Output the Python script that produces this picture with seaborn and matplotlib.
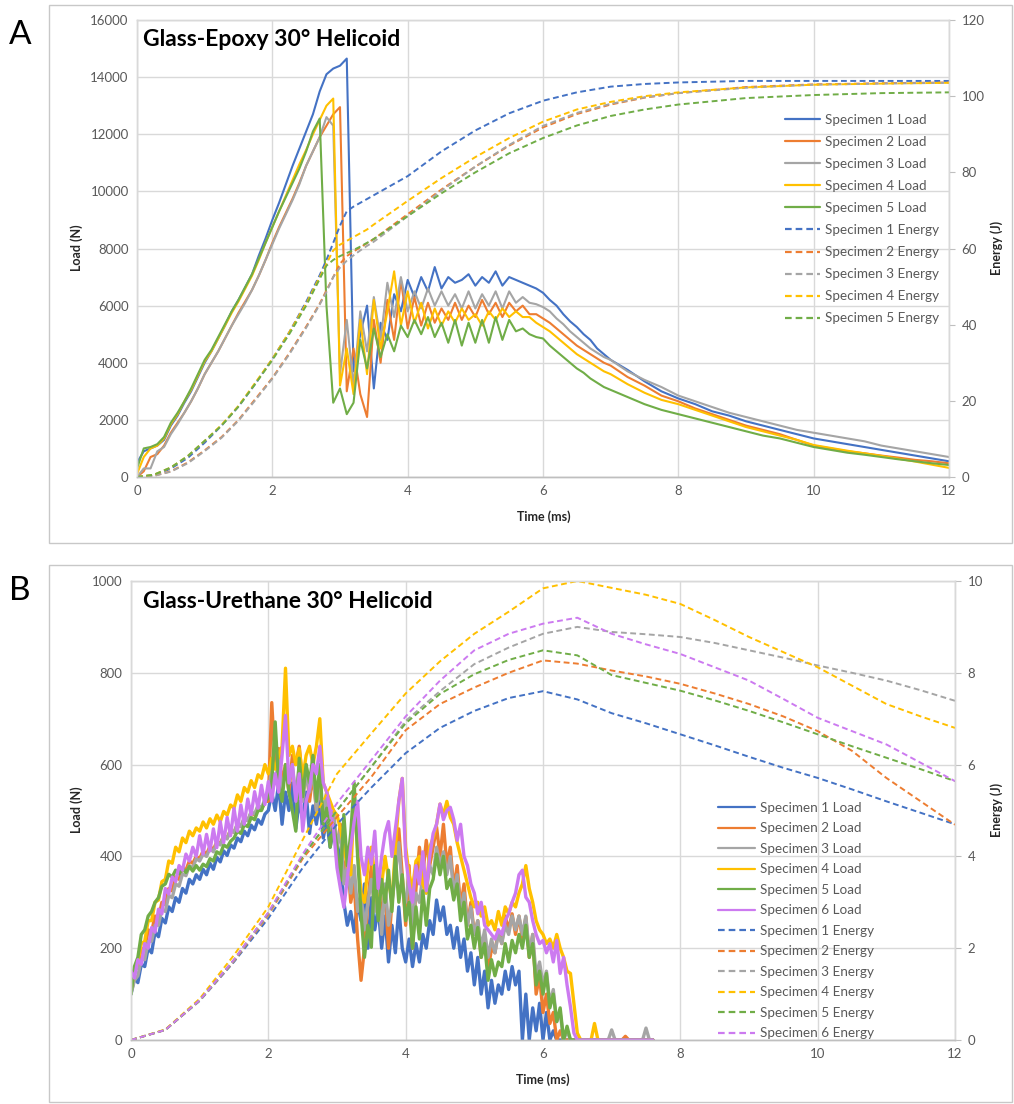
import numpy as np
import pandas as pd
import matplotlib
matplotlib.use("Agg")
import matplotlib.pyplot as plt
import seaborn as sns
from matplotlib.patches import Rectangle

sns.set_theme(style="white")
plt.rcParams["font.family"] = ["Lato", "DejaVu Sans"]

# ---------------- Panel A: Glass-Epoxy ----------------
T_A_LOAD = np.round(np.concatenate([np.arange(0, 7.01, 0.1), np.arange(7.25, 12.01, 0.25)]), 2)

A_LOAD_S1 = [500, 900, 1000, 1100, 1300, 1800, 2150, 2600, 3000, 3500,
             4000, 4400, 4850, 5300, 5800, 6200, 6650, 7100, 7750, 8350,
             9000, 9600, 10250, 10900, 11500, 12100, 12700, 13500, 14100, 14300,
             14400, 14650, 3700, 5000, 6000, 3100, 5400, 4800, 6400, 5800,
             6900, 6300, 7000, 6500, 7350, 6600, 7000, 6800, 6900, 7100,
             6700, 7000, 6800, 7200, 6700, 7000, 6900, 6800, 6700, 6600,
             6450, 6200, 6000, 5700, 5450, 5250, 5000, 4800, 4500, 4300,
             4100,
             3750, 3350, 3000, 2750, 2550, 2300, 2150, 1950, 1800, 1650,
             1500, 1350, 1250, 1150, 1050, 950, 850, 750, 650, 550]
A_LOAD_S2 = [0, 200, 700, 800, 1100, 1550, 1900, 2250, 2650, 3100,
             3600, 4000, 4400, 4850, 5300, 5750, 6150, 6550, 7050, 7600,
             8200, 8750, 9250, 9750, 10300, 10900, 11400, 11900, 12300, 12700,
             12950, 3000, 4500, 2900, 2100, 5500, 4000, 6200, 4800, 6900,
             5200, 6300, 5300, 6100, 5400, 5900, 5500, 6100, 5500, 6000,
             5600, 6200, 5700, 6100, 5600, 6100, 5800, 6000, 5700, 5700,
             5550, 5400, 5200, 5000, 4800, 4600, 4450, 4300, 4150, 4000,
             3900,
             3500, 3200, 2850, 2650, 2400, 2200, 2000, 1800, 1650, 1500,
             1300, 1100, 1000, 900, 830, 750, 680, 600, 550, 480]
A_LOAD_S3 = [0, 300, 300, 900, 1050, 1500, 1850, 2250, 2650, 3100,
             3600, 4000, 4400, 4850, 5300, 5700, 6100, 6550, 7050, 7600,
             8150, 8700, 9200, 9700, 10250, 10900, 11400, 11900, 12600, 12300,
             3600, 5500, 3200, 5800, 4400, 6300, 4800, 6800, 5600, 7000,
             5800, 6500, 5900, 6600, 6000, 6500, 6000, 6400, 5900, 6500,
             5900, 6400, 6000, 6500, 5900, 6500, 6100, 6300, 6100, 6050,
             5950, 5800, 5550, 5350, 5100, 4900, 4700, 4500, 4350, 4200,
             4100,
             3700, 3400, 3150, 2850, 2650, 2450, 2250, 2100, 1950, 1800,
             1650, 1550, 1450, 1350, 1250, 1100, 1000, 900, 800, 700]
A_LOAD_S4 = [100, 700, 1000, 1100, 1350, 1850, 2200, 2650, 3050, 3550,
             4050, 4400, 4850, 5300, 5750, 6150, 6600, 7050, 7600, 8200,
             8750, 9300, 9850, 10400, 10950, 11450, 12000, 12500, 13000, 13250,
             3200, 4500, 2900, 5500, 3600, 6200, 4500, 5800, 7200, 5300,
             6500, 5400, 6100, 5200, 5900, 5300, 5800, 5400, 5900, 5500,
             5700, 5300, 5800, 5500, 5900, 5600, 5800, 5600, 5600, 5400,
             5250, 5100, 4900, 4700, 4500, 4300, 4150, 4000, 3850, 3700,
             3600,
             3250, 2950, 2700, 2550, 2350, 2150, 1950, 1750, 1600, 1450,
             1300, 1120, 1020, 920, 830, 740, 640, 540, 430, 320]
A_LOAD_S5 = [300, 1000, 1050, 1150, 1400, 1900, 2250, 2650, 3100, 3600,
             4100, 4450, 4900, 5350, 5800, 6200, 6650, 7100, 7650, 8200,
             8750, 9300, 9800, 10300, 10800, 11400, 12100, 12550, 6000, 2600,
             3100, 2200, 2600, 4800, 3800, 5200, 4200, 5000, 4400, 5300,
             4900, 5500, 5000, 5600, 4900, 5400, 4700, 5500, 4600, 5400,
             4700, 5500, 4700, 5600, 4800, 5500, 5100, 5200, 5000, 4900,
             4850, 4600, 4400, 4200, 4000, 3800, 3650, 3450, 3300, 3150,
             3050,
             2800, 2550, 2350, 2200, 2050, 1900, 1750, 1600, 1450, 1350,
             1200, 1050, 950, 850, 780, 700, 620, 550, 480, 420]

T_A_ENERGY = [0, 0.25, 0.5, 0.75, 1, 1.25, 1.5, 1.75, 2, 2.25, 2.5, 2.6, 2.7, 2.8, 2.9,
              3.0, 3.1, 3.2, 3.3, 3.4, 3.5, 4, 4.5, 5, 5.5, 6, 6.5, 7, 7.5, 8, 9, 10, 11, 12]
A_ENERGY_S1 = [0, 0.5, 2.2, 5, 9, 13.5, 18.5, 24.5, 31, 38, 46, 49.5, 53, 57, 61.5,
               66, 69.8, 71, 72, 73, 74, 79, 85.5, 91, 95.5, 98.8, 101, 102.5, 103.2, 103.6,
               104, 104, 104, 104]
A_ENERGY_S2 = [0, 0.3, 1.5, 3.8, 7, 10.5, 15, 20.5, 26, 32.5, 39.5, 42.5, 45.5, 49, 52.5,
               56, 58, 59.2, 60.3, 61.4, 62.5, 69, 75.5, 81.5, 87, 91.8, 95.3, 97.8, 99.6, 100.8,
               102.4, 103.1, 103.4, 103.6]
A_ENERGY_S3 = [0, 0.3, 1.4, 3.6, 6.8, 10.3, 14.8, 20.2, 25.8, 32.2, 39.2, 42.2, 45.3, 48.6, 52.5,
               55, 56.8, 58.2, 59.5, 60.7, 61.8, 68.5, 75.2, 81.5, 87.2, 92.2, 95.6, 98, 99.7, 100.8,
               102.2, 103, 103.3, 103.5]
A_ENERGY_S4 = [0, 0.6, 2.5, 5.5, 9.5, 13.7, 18.7, 24.8, 31, 38, 45.5, 49, 52.5, 56, 59.5,
               61, 62, 63, 64, 65, 66.3, 72.5, 78.5, 84, 89, 93.3, 96.5, 98.5, 100, 101,
               102.3, 103, 103.3, 103.5]
A_ENERGY_S5 = [0, 0.6, 2.5, 5.5, 9.5, 13.5, 18.5, 24.5, 30.7, 37.5, 45, 48.5, 52, 55.5, 57,
               58, 58.8, 59.6, 60.5, 61.5, 62.5, 68.5, 74.5, 80, 85, 89, 92.3, 94.8, 96.5, 97.8,
               99.5, 100.3, 100.8, 101]

# ---------------- Panel B: Glass-Urethane ----------------
# load sampled every 0.05 ms from 0 to 7.6 ms (one row of 20 values per ms)
T_B_LOAD = np.round(np.arange(0, 7.601, 0.05), 2)

B_LOAD_S1 = [100, 135, 125, 165, 160, 200, 190, 235, 225, 265, 255, 290, 280, 310, 300, 330, 320, 350, 340, 360,
             350, 372, 360, 385, 372, 398, 388, 412, 402, 425, 418, 440, 432, 455, 445, 468, 458, 480, 470, 492,
             500, 540, 500, 560, 470, 540, 500, 560, 460, 520, 480, 540, 450, 510, 470, 520, 440, 480, 420, 460,
             430, 390, 300, 250, 280, 235, 300, 260, 340, 200, 310, 240, 290, 200, 270, 170, 250, 190, 290, 200,
             170, 220, 160, 210, 170, 230, 200, 260, 230, 305, 260, 290, 230, 250, 200, 245, 180, 220, 150, 190,
             120, 180, 100, 150, 70, 130, 80, 120, 100, 150, 110, 160, 120, 150, 0, 100, 0, 70, 20, 80,
             0, 60, 0, 20, 0, 0, 0, 0, 0, 0, 0, 0, 0, 0, 0, 0, 0, 0, 0, 0,
             0, 0, 0, 0, 0, 0, 0, 0, 0, 0, 0, 0, 0]
B_LOAD_S2 = [110, 150, 160, 200, 195, 240, 235, 270, 265, 300, 295, 330, 325, 355, 350, 375, 370, 390, 385, 400,
             395, 412, 405, 422, 415, 432, 428, 445, 440, 458, 452, 470, 465, 482, 478, 495, 490, 508, 502, 520,
             520, 735, 600, 635, 560, 600, 540, 620, 600, 640, 560, 600, 520, 580, 500, 560, 480, 540, 440, 480,
             420, 470, 360, 400, 300, 340, 220, 130, 200, 300, 380, 320, 360, 260, 330, 200, 300, 380, 460, 360,
             250, 380, 200, 330, 420, 360, 435, 380, 420, 464, 400, 470, 380, 420, 330, 380, 290, 340, 250, 300,
             230, 260, 180, 230, 150, 200, 190, 240, 210, 270, 240, 275, 230, 270, 220, 268, 180, 230, 100, 140,
             60, 100, 36, 60, 0, 20, 0, 0, 0, 0, 0, 0, 0, 0, 0, 0, 0, 0, 0, 0,
             0, 0, 0, 0, 8, 0, 0, 0, 0, 0, 0, 0, 0]
B_LOAD_S3 = [100, 130, 140, 175, 175, 215, 215, 250, 250, 285, 280, 315, 310, 340, 335, 362, 358, 380, 375, 395,
             390, 405, 400, 418, 410, 430, 425, 445, 438, 458, 452, 472, 465, 485, 478, 498, 492, 512, 505, 525,
             540, 590, 560, 610, 540, 590, 560, 600, 530, 600, 520, 580, 540, 590, 500, 560, 480, 540, 460, 500,
             420, 460, 340, 380, 320, 380, 280, 320, 240, 300, 350, 280, 330, 230, 340, 250, 300, 360, 430, 330,
             300, 360, 250, 320, 300, 360, 320, 380, 360, 420, 380, 410, 360, 400, 320, 360, 280, 320, 250, 290,
             230, 260, 200, 240, 180, 220, 190, 230, 210, 250, 230, 270, 240, 270, 230, 270, 190, 230, 140, 170,
             120, 150, 80, 110, 40, 60, 0, 20, 0, 0, 0, 0, 0, 0, 0, 0, 0, 0, 0, 0,
             22, 0, 0, 0, 0, 0, 0, 0, 0, 0, 26, 0, 0]
B_LOAD_S4 = [110, 150, 170, 210, 215, 260, 260, 300, 305, 345, 350, 390, 385, 420, 410, 440, 430, 455, 445, 462,
             455, 475, 462, 482, 470, 490, 476, 498, 490, 512, 505, 534, 520, 550, 540, 565, 550, 578, 570, 600,
             580, 614, 590, 620, 640, 810, 620, 640, 600, 635, 570, 620, 640, 600, 640, 700, 560, 540, 520, 500,
             490, 460, 420, 380, 360, 530, 420, 320, 300, 380, 420, 360, 280, 340, 400, 350, 300, 420, 520, 570,
             420, 360, 330, 390, 400, 340, 320, 420, 440, 470, 514, 490, 520, 485, 470, 430, 400, 370, 340, 310,
             290, 300, 270, 290, 250, 260, 240, 280, 250, 290, 275, 300, 290, 320, 340, 380, 330, 300, 260, 240,
             230, 210, 220, 200, 230, 200, 180, 150, 145, 80, 15, 0, 0, 0, 0, 36, 0, 0, 0, 0,
             0, 0, 0, 0, 0, 0, 0, 0, 0, 0, 0, 0, 0]
B_LOAD_S5 = [100, 160, 180, 230, 240, 270, 280, 300, 310, 335, 340, 361, 355, 370, 362, 375, 365, 378, 368, 380,
             370, 383, 378, 395, 390, 410, 405, 425, 420, 433, 440, 455, 450, 469, 465, 485, 480, 500, 500, 520,
             527, 560, 693, 560, 520, 600, 540, 500, 455, 614, 530, 600, 560, 620, 520, 600, 470, 505, 420, 470,
             420, 347, 491, 380, 450, 560, 400, 275, 180, 250, 202, 380, 260, 350, 300, 370, 280, 400, 300, 360,
             260, 300, 200, 290, 220, 325, 250, 330, 350, 405, 360, 400, 330, 350, 305, 340, 260, 300, 220, 250,
             200, 245, 180, 210, 130, 175, 140, 170, 160, 210, 170, 217, 190, 230, 200, 250, 180, 210, 120, 150,
             100, 145, 70, 100, 40, 70, 0, 30, 0, 0, 0, 0, 0, 0, 0, 0, 0, 0, 0, 0,
             0, 0, 0, 0, 0, 0, 0, 0, 0, 0, 0, 0, 0]
B_LOAD_S6 = [150, 135, 175, 165, 210, 200, 245, 235, 285, 275, 330, 318, 355, 345, 380, 370, 405, 390, 420, 400,
             445, 405, 448, 412, 460, 419, 476, 430, 485, 445, 505, 455, 512, 470, 525, 491, 541, 505, 555, 513,
             563, 520, 580, 540, 620, 707, 560, 600, 520, 580, 455, 520, 549, 600, 580, 640, 560, 541, 500, 460,
             375, 330, 289, 350, 420, 476, 520, 400, 360, 420, 383, 455, 330, 400, 450, 476, 400, 460, 520, 570,
             400, 340, 300, 380, 340, 410, 325, 400, 450, 470, 514, 480, 500, 507, 480, 435, 470, 400, 380, 340,
             320, 275, 300, 250, 240, 230, 220, 240, 230, 260, 275, 300, 320, 360, 370, 311, 300, 260, 230, 210,
             217, 190, 210, 170, 217, 145, 180, 120, 72, 15, 0, 0, 0, 0, 0, 0, 0, 0, 0, 0,
             0, 0, 0, 0, 0, 0, 0, 0, 0, 0, 0, 0, 0]

T_B_ENERGY = [0, 0.5, 1, 1.5, 2, 2.5, 3, 3.5, 4, 4.5, 5, 5.5, 6, 6.5, 7, 7.5,
              8, 8.5, 9, 9.5, 10, 10.5, 11, 11.5, 12]
B_ENERGY_S1 = [0, 0.22, 0.85, 1.7, 2.65, 3.75, 4.7, 5.5, 6.25, 6.8, 7.17, 7.45, 7.6, 7.42,
               7.12, 6.9, 6.66, 6.42, 6.17, 5.93, 5.71, 5.46, 5.2, 4.95, 4.7]
B_ENERGY_S2 = [0, 0.22, 0.86, 1.72, 2.72, 3.95, 4.86, 5.73, 6.75, 7.32, 7.68, 8.0, 8.27, 8.2,
               8.05, 7.92, 7.76, 7.55, 7.32, 7.05, 6.73, 6.3, 5.71, 5.2, 4.69]
B_ENERGY_S3 = [0, 0.22, 0.86, 1.73, 2.75, 4.0, 5.0, 5.95, 6.95, 7.6, 8.19, 8.55, 8.85, 9.0,
               8.89, 8.84, 8.78, 8.65, 8.49, 8.33, 8.16, 8.0, 7.83, 7.62, 7.39]
B_ENERGY_S4 = [0, 0.23, 0.9, 1.85, 2.9, 4.36, 5.8, 6.68, 7.55, 8.25, 8.85, 9.33, 9.84, 10.0,
               9.85, 9.7, 9.5, 9.15, 8.78, 8.45, 8.12, 7.72, 7.32, 7.05, 6.8]
B_ENERGY_S5 = [0, 0.22, 0.87, 1.75, 2.77, 4.0, 5.0, 5.95, 6.9, 7.54, 7.97, 8.28, 8.49, 8.38,
               7.95, 7.78, 7.61, 7.4, 7.17, 6.92, 6.66, 6.4, 6.15, 5.9, 5.64]
B_ENERGY_S6 = [0, 0.22, 0.87, 1.75, 2.78, 4.05, 5.16, 6.1, 7.05, 7.83, 8.49, 8.85, 9.07, 9.2,
               8.85, 8.62, 8.41, 8.12, 7.83, 7.43, 7.02, 6.73, 6.44, 6.04, 5.64]

SPECIMENS_A = ["Specimen 1", "Specimen 2", "Specimen 3", "Specimen 4", "Specimen 5"]
SPECIMENS_B = SPECIMENS_A + ["Specimen 6"]
COLORS = ["#4472C4", "#ED7D31", "#A5A5A5", "#FFC000", "#70AD47", "#CC7AF0"]

GRID = "#D9D9D9"
TICK_TXT = "#595959"
W, H = 1014, 1104


def fx(px):
    return px / W


def fy(py):
    return 1 - py / H


def draw_panel(ax, t_load, loads, t_energy, energies, names, load_lw,
               ylim, ystep, y2lim, y2step):
    ax2 = ax.twinx()
    handles = []
    for name, vals, c in zip(names, loads, COLORS):
        df = pd.DataFrame({"t": t_load, "v": vals})
        sns.lineplot(data=df, x="t", y="v", ax=ax, color=c, lw=load_lw,
                     estimator=None, sort=False, legend=False)
        ln = ax.lines[-1]
        ln.set_label(f"{name} Load")
        handles.append(ln)
    for name, vals, c in zip(names, energies, COLORS):
        df = pd.DataFrame({"t": t_energy, "v": vals})
        sns.lineplot(data=df, x="t", y="v", ax=ax2, color=c, lw=1.4,
                     estimator=None, sort=False, legend=False)
        ln = ax2.lines[-1]
        ln.set_dashes([3.0, 1.8])
        ln.set_label(f"{name} Energy")
        handles.append(ln)

    xt = np.arange(0, 12.1, 2)
    yt = np.arange(ylim[0], ylim[1] + 1, ystep)
    y2t = np.arange(y2lim[0], y2lim[1] + 0.01, y2step)
    ax.set_xlim(0, 12)
    ax.set_ylim(*ylim)
    ax2.set_ylim(*y2lim)
    ax.set_xticks(xt)
    ax.set_yticks(yt)
    ax2.set_yticks(y2t)
    ax.set_xticklabels([f"{int(v)}" for v in xt])
    ax.set_yticklabels([f"{int(v)}" for v in yt])
    ax2.set_yticklabels([f"{int(v)}" for v in y2t])
    ax.set_xlabel("")
    ax.set_ylabel("")
    ax2.set_ylabel("")
    ax.grid(True, color=GRID, lw=1.0)
    ax.set_axisbelow(True)
    ax2.grid(False)
    for a in (ax, ax2):
        for s in ("left", "top", "right"):
            a.spines[s].set_color(GRID)
            a.spines[s].set_linewidth(1.0)
        a.spines["bottom"].set_color("#BFBFBF")
        a.spines["bottom"].set_linewidth(1.0)
    ax.tick_params(axis="both", length=0, labelsize=9.5, labelcolor=TICK_TXT, pad=6)
    ax2.tick_params(axis="y", length=4, width=0.8, color="#BFBFBF", direction="out",
                    labelsize=9.5, labelcolor=TICK_TXT, pad=5)
    return ax2, handles


fig = plt.figure(figsize=(W / 100, H / 100), dpi=100)

# panel frames
for top, bot in ((5, 543), (565, 1102)):
    fig.patches.append(Rectangle((fx(49), fy(bot)), fx(1012) - fx(49), fy(top) - fy(bot),
                                 transform=fig.transFigure, fill=False,
                                 ec="#C8C8C8", lw=1.0))

axA = fig.add_axes([fx(137), fy(477), fx(949) - fx(137), fy(20) - fy(477)])
axB = fig.add_axes([fx(131), fy(1040), fx(955) - fx(131), fy(581) - fy(1040)])

axA2, hA = draw_panel(axA, T_A_LOAD, [A_LOAD_S1, A_LOAD_S2, A_LOAD_S3, A_LOAD_S4, A_LOAD_S5],
                      T_A_ENERGY, [A_ENERGY_S1, A_ENERGY_S2, A_ENERGY_S3, A_ENERGY_S4, A_ENERGY_S5],
                      SPECIMENS_A, 1.5, (0, 16000), 2000, (0, 120), 20)
axB2, hB = draw_panel(axB, T_B_LOAD, [B_LOAD_S1, B_LOAD_S2, B_LOAD_S3, B_LOAD_S4, B_LOAD_S5, B_LOAD_S6],
                      T_B_ENERGY, [B_ENERGY_S1, B_ENERGY_S2, B_ENERGY_S3, B_ENERGY_S4, B_ENERGY_S5, B_ENERGY_S6],
                      SPECIMENS_B, 2.4, (0, 1000), 200, (0, 10), 2)

legA = axA2.legend(handles=hA, labels=[h.get_label() for h in hA], loc="upper left",
                   bbox_to_anchor=(fx(785), fy(114)), bbox_transform=fig.transFigure,
                   frameon=False, fontsize=9.7, handlelength=2.6, handletextpad=0.35,
                   labelspacing=0.745, borderpad=0, borderaxespad=0)
legB = axB2.legend(handles=hB, labels=[h.get_label() for h in hB], loc="upper left",
                   bbox_to_anchor=(fx(718), fy(802)), bbox_transform=fig.transFigure,
                   frameon=False, fontsize=9.7, handlelength=2.75, handletextpad=0.35,
                   labelspacing=0.63, borderpad=0, borderaxespad=0)
for leg in (legA, legB):
    for txt in leg.get_texts():
        txt.set_color(TICK_TXT)
    for ln in leg.get_lines():
        ln.set_linewidth(1.6)

# titles inside the plot area
axA.text(fx(143), fy(40), "Glass-Epoxy 30° Helicoid", transform=fig.transFigure,
         fontsize=16.5, fontweight="bold", va="center", ha="left", color="black")
axB.text(fx(143), fy(602), "Glass-Urethane 30° Helicoid", transform=fig.transFigure,
         fontsize=16.5, fontweight="bold", va="center", ha="left", color="black")

# axis titles
lab = dict(fontsize=9, fontweight="bold", color="#262626")
fig.text(fx(77), fy(248), "Load (N)", rotation=90, ha="center", va="center", **lab)
fig.text(fx(997), fy(248), "Energy (J)", rotation=90, ha="center", va="center", **lab)
fig.text(fx(544), fy(517), "Time (ms)", ha="center", va="center", **lab)
fig.text(fx(77), fy(810), "Load (N)", rotation=90, ha="center", va="center", **lab)
fig.text(fx(997), fy(810), "Energy (J)", rotation=90, ha="center", va="center", **lab)
fig.text(fx(543), fy(1080), "Time (ms)", ha="center", va="center", **lab)

# panel letters
fig.text(fx(9), fy(35), "A", fontsize=24, ha="left", va="center", color="black")
fig.text(fx(9), fy(591), "B", fontsize=24, ha="left", va="center", color="black")

fig.savefig("out.png", dpi=100)
